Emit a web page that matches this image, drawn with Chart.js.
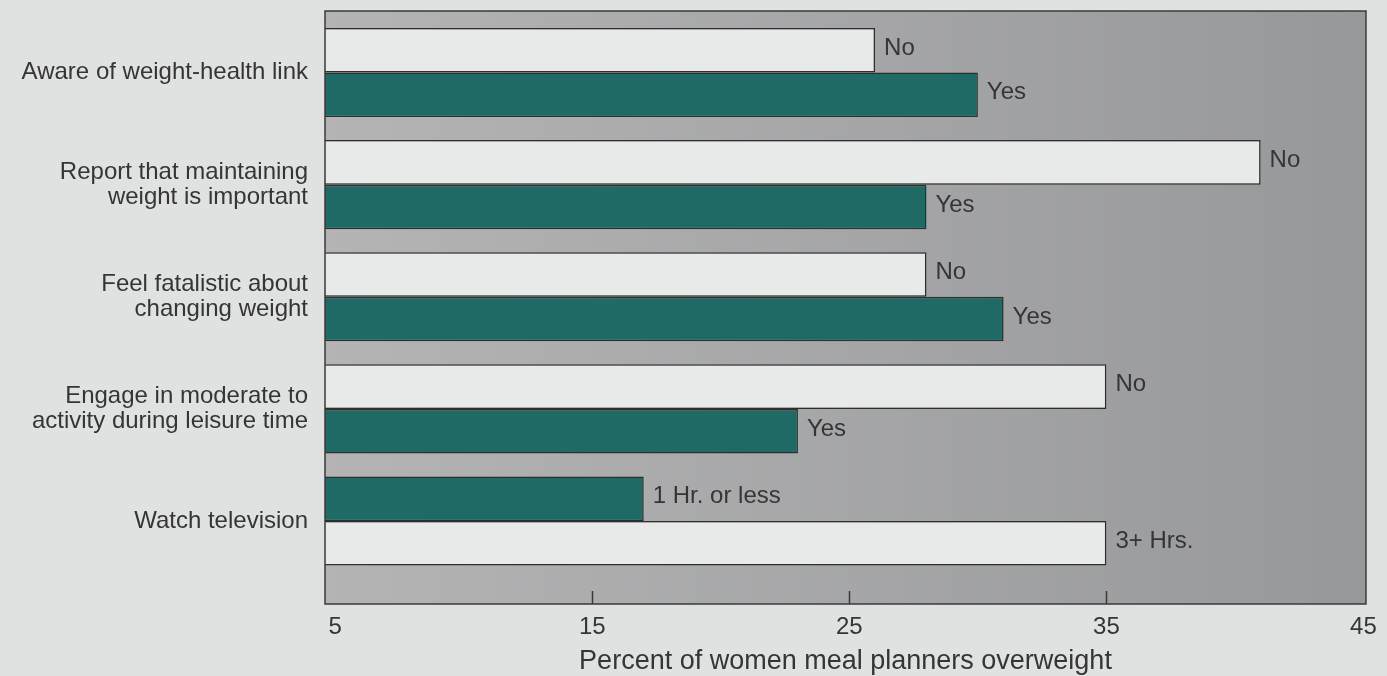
<!DOCTYPE html>
<html><head><meta charset="utf-8">
<script src="https://cdn.jsdelivr.net/npm/chart.js@4.4.1/dist/chart.umd.min.js"></script>
<style>html,body{margin:0;padding:0;background:#dfe2e0;overflow:hidden}#wrap{width:1387px;height:676px}</style>
</head><body><div id="wrap"><canvas id="c" width="1387" height="676"></canvas></div>
<script>
const categories = [
  ["Aware of weight-health link"],
  ["Report that maintaining", "weight is important"],
  ["Feel fatalistic about", "changing weight"],
  ["Engage in moderate to", "activity during leisure time"],
  ["Watch television"]
];
const topValues = [26, 41, 28, 35, 17];
const bottomValues = [30, 28, 31, 23, 35];
const topLabels = ["No", "No", "No", "No", "1 Hr. or less"];
const bottomLabels = ["Yes", "Yes", "Yes", "Yes", "3+ Hrs."];
const topIsGreen = [false, false, false, false, true];
const xTickValues = [5, 15, 25, 35, 45];
const markedTicks = [15, 25, 35];
const axisTitle = "Percent of women meal planners overweight";

const GREEN = '#1f6a64', LIGHT = '#e7eae8', EDGE = '#2e2e2e', TEXT = '#353535';
const FONT = '"Liberation Sans", Arial, sans-serif';

const topColors = topIsGreen.map(g => g ? GREEN : LIGHT);
const bottomColors = topIsGreen.map(g => g ? LIGHT : GREEN);

const framePlugin = {
  id: 'frame',
  beforeDatasetsDraw(chart) {
    const {ctx, chartArea: a} = chart;
    const g = ctx.createLinearGradient(a.left, 0, a.right, 0);
    g.addColorStop(0, '#b4b4b5');
    g.addColorStop(1, '#97989a');
    ctx.save();
    ctx.fillStyle = g;
    ctx.fillRect(a.left, a.top, a.width, a.height);
    ctx.restore();
  },
  afterDatasetsDraw(chart) {
    const {ctx, chartArea: a} = chart;
    const xs = chart.scales.x;
    ctx.save();
    ctx.strokeStyle = '#3a3a3a';
    ctx.lineWidth = 1.5;
    ctx.strokeRect(a.left, a.top, a.width, a.height);
    ctx.beginPath();
    markedTicks.forEach(v => {
      const px = Math.round(xs.getPixelForValue(v)) + 0.5;
      ctx.moveTo(px, a.bottom);
      ctx.lineTo(px, a.bottom - 13);
    });
    ctx.stroke();
    ctx.fillStyle = TEXT;
    ctx.font = '24px ' + FONT;
    ctx.textBaseline = 'middle';
    ctx.textAlign = 'left';
    const texts = [topLabels, bottomLabels];
    chart.data.datasets.forEach((ds, di) => {
      chart.getDatasetMeta(di).data.forEach((bar, i) => {
        ctx.fillText(texts[di][i], bar.x + 9, bar.y - 2);
      });
    });
    ctx.restore();
  }
};

new Chart(document.getElementById('c'), {
  type: 'bar',
  data: {
    datasets: [
      {data: topValues.map((v, i) => ({x: v, y: i})), backgroundColor: topColors, borderColor: EDGE, borderWidth: 1.5},
      {data: bottomValues.map((v, i) => ({x: v, y: i})), backgroundColor: bottomColors, borderColor: EDGE, borderWidth: 1.5}
    ]
  },
  options: {
    responsive: false,
    animation: false,
    indexAxis: 'y',
    layout: {padding: {top: 11, right: 21, left: 0, bottom: 0}},
    plugins: {legend: {display: false}, tooltip: {enabled: false}},
    datasets: {bar: {categoryPercentage: 0.795, barPercentage: 1}},
    scales: {
      x: {
        type: 'linear', min: 4.6, max: 45.1, offset: false,
        afterBuildTicks: s => { s.ticks = xTickValues.map(v => ({value: v})); },
        afterFit: s => { s.height = 72; s.paddingLeft = 0; s.paddingRight = 0; },
        grid: {display: false, drawTicks: false},
        border: {display: false},
        ticks: {padding: 9, color: TEXT, font: {family: FONT, size: 24}, maxRotation: 0, autoSkip: false},
        title: {display: true, text: axisTitle, color: TEXT, font: {family: FONT, size: 27, lineHeight: 1.1}, padding: {top: 0, bottom: 0}}
      },
      y: {
        type: 'linear', reverse: true, min: -0.549, max: 4.74, offset: false,
        afterBuildTicks: s => { s.ticks = categories.map((_, i) => ({value: i})); },
        afterFit: s => { s.width = 325; s.paddingTop = 0; s.paddingBottom = 0; },
        grid: {display: false, drawTicks: false},
        border: {display: false},
        ticks: {padding: 17, color: TEXT, font: {family: FONT, size: 24, lineHeight: 1.05}, autoSkip: false,
          callback: v => categories[v]}
      }
    }
  },
  plugins: [framePlugin]
});
</script></body></html>
